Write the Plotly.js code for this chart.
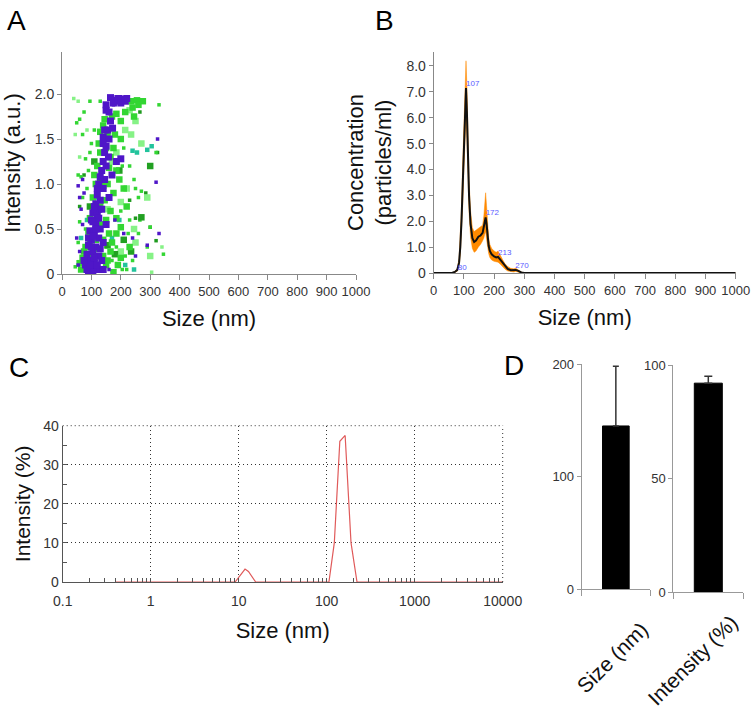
<!DOCTYPE html>
<html>
<head>
<meta charset="utf-8">
<script src="https://cdn.plot.ly/plotly-3.0.1.min.js"></script>
<style>html,body{margin:0;padding:0;background:#fff;}#chart{width:752px;height:715px;}</style>
</head>
<body>
<div id="chart"></div>
<script>
// ---------- Panel A: scatter (size vs intensity) ----------
const A_purple_big_x = [165,180,195,205,215,175,190,220,150,165,155,172,140,150,160,145,158,140,150,135,145,125,140,120,130,115,125,105,120,100,115,130,95,110,125,100,90,115,105,85,125,95,110,80,100,120,90,105,135,140,150,160,170,200,185,
  85,95,110,120,130,100,90,115,105,125,135,110,120,130,140,145,160,150,200,75,140,105];
const A_purple_big_y = [1.96,1.93,1.92,1.94,1.92,1.90,1.95,1.95,1.82,1.70,1.60,1.62,1.52,1.42,1.50,1.35,1.30,1.25,1.20,1.15,1.05,1.00,0.95,0.88,0.82,0.78,0.72,0.68,0.65,0.60,0.55,0.50,0.48,0.45,0.40,0.38,0.32,0.30,0.25,0.22,0.20,0.15,0.12,0.10,0.08,0.05,0.03,0.02,0.15,0.35,0.55,0.85,1.10,1.28,1.25,
  0.05,0.10,0.18,0.10,0.28,0.30,0.40,0.50,0.58,0.62,0.72,0.75,0.95,1.08,1.45,1.60,1.80,1.88,1.90,0.15,0.05,0.42];
const A_purple_small_x = [55,60,50,65,70,325,320,330,290,200,175,60,70,75,240,250,180,210,160,55];
const A_purple_small_y = [0.98,0.85,0.40,0.72,0.55,1.50,1.02,0.45,0.32,1.97,1.88,0.25,1.05,0.90,0.40,0.20,0.60,0.45,0.05,0.10];
const A_green_big_x = [235,255,275,240,215,185,140,130,170,180,200,150,175,130,120,160,195,115,140,175,105,130,165,95,150,185,90,140,200,80,120,165,70,110,150,200,65,130,175,230,125,145,110,160,100,210,220,
  60,75,85,95,105,115,140,155,170,185,190,135,145,120,110,155,165,185,155,200,260,245];
const A_green_big_y = [1.92,1.93,1.92,1.85,1.80,1.78,1.65,1.58,1.75,1.55,1.50,1.40,1.40,1.35,1.20,1.18,1.05,1.00,0.98,0.90,0.85,0.75,0.70,0.62,0.60,0.62,0.45,0.38,0.52,0.30,0.28,0.25,0.18,0.15,0.10,0.18,0.05,0.05,0.02,0.30,1.45,1.72,1.10,0.45,0.20,0.95,0.75,
  0.12,0.25,0.12,0.35,0.05,0.38,0.20,0.15,0.35,0.45,0.10,0.55,0.82,0.55,0.68,1.00,1.30,1.15,1.55,1.70,1.88,1.75];
const A_green_small_x = [50,60,75,95,130,70,55,65,80,100,85,245,260,270,300,330,320,345,290,260,240,220,45,55,60,230,210,265,
  150,170,185,205,215,225,80,70,90,95,110,200,230,250,205];
const A_green_small_y = [1.68,1.72,1.80,1.92,1.92,1.55,1.10,1.08,1.28,1.45,0.95,1.05,0.85,0.92,0.52,1.88,1.35,0.22,0.30,0.45,0.15,0.05,0.08,0.35,0.58,1.20,1.40,0.60,
  0.30,0.15,0.30,0.05,0.20,0.45,0.50,0.85,1.15,1.35,1.60,0.70,0.60,0.95,1.20];
const A_light_big_x = [230,250,215,185,235,170,220,200,155,245,290,300,250,200,270];
const A_light_big_y = [1.82,1.70,1.60,1.35,1.55,1.25,0.95,0.80,0.72,0.50,0.85,0.20,0.35,0.25,1.45];
const A_light_small_x = [40,55,45,60,305,85,190,340];
const A_light_small_y = [1.95,1.92,1.55,1.30,0.02,1.60,0.10,0.30];
const A_dark_big_x = [300,270,210,235,130,110,195,180,95,155];
const A_dark_big_y = [1.20,0.63,0.38,0.25,1.05,1.25,1.15,0.22,0.75,0.32];
const A_dark_small_x = [300,320,325,285,75,60,250,230,90,265];
const A_dark_small_y = [0.52,0.37,1.35,0.90,1.10,0.75,0.62,0.82,0.42,1.80];
const A_teal_x = [240,255,290,305,85,65,230,215,245,170,195,120];
const A_teal_y = [1.37,1.35,1.38,1.42,0.60,0.40,0.30,0.10,0.05,0.40,0.60,0.85];
const A_xticks = [0,100,200,300,400,500,600,700,800,900,1000];
const A_yticks = [0,0.5,1.0,1.5,2.0];
const A_yticktext = ["0","0.5","1.0","1.5","2.0"];

// ---------- Panel B: NTA concentration ----------
const B_x     = [0,55,62,70,78,84,88,92,96,100,104,107,110,113,117,122,128,134,140,148,155,162,166,169,172,175,178,182,186,192,200,207,213,220,228,236,245,255,265,272,280,290,300,330,1000];
const B_mean  = [0,0,0.01,0.04,0.12,0.4,1.0,2.0,3.4,5.0,6.5,7.15,6.2,4.6,3.0,1.9,1.35,1.2,1.25,1.4,1.45,1.55,1.75,2.0,2.15,1.9,1.45,1.05,0.85,0.72,0.64,0.6,0.62,0.52,0.38,0.25,0.16,0.11,0.1,0.12,0.08,0.02,0,0,0];
const B_upper = [0,0,0.02,0.06,0.18,0.55,1.3,2.5,4.2,6.0,7.6,8.2,7.2,5.4,3.6,2.4,1.75,1.6,1.65,1.75,1.8,1.85,2.2,2.8,3.1,2.6,1.9,1.35,1.1,0.95,0.85,0.8,0.85,0.72,0.52,0.36,0.25,0.18,0.16,0.18,0.12,0.04,0,0,0];
const B_lower = [0,0,0,0.02,0.07,0.25,0.7,1.5,2.6,4.0,5.4,6.1,5.2,3.8,2.4,1.4,0.95,0.8,0.85,1.0,1.1,1.25,1.35,1.5,1.6,1.3,1.0,0.75,0.6,0.5,0.45,0.42,0.42,0.35,0.25,0.15,0.08,0.05,0.04,0.06,0.03,0,0,0,0];
const B_peak_x = [80,107,172,213,270];
const B_peak_y = [0.05,7.15,2.15,0.62,0.12];
const B_peak_text = ["80","107","172","213","270"];
const B_yticks = [0,1,2,3,4,5,6,7,8];
const B_yticktext = ["0","1.0","2.0","3.0","4.0","5.0","6.0","7.0","8.0"];

// ---------- Panel C: DLS intensity distribution ----------
const C_x = [0.4,1,5,9.1,11.8,12.9,15.6,50,106,122,141,162,189,221,1000,10000];
const C_y = [0,0,0,0,3.3,2.7,0,0,0,10,36,37.5,10,0,0,0];
const C_xticks = [0.1,1,10,100,1000,10000];
const C_xticktext = ["0.1","1","10","100","1000","10000"];
const C_xminor = [0.2,0.3,0.4,0.5,0.6,0.7,0.8,0.9,2,3,4,5,6,7,8,9,20,30,40,50,60,70,80,90,200,300,400,500,600,700,800,900,2000,3000,4000,5000,6000,7000,8000,9000];

// ---------- Panel D: bar summaries ----------
const D_size = 145;
const D_size_err = 53;
const D_int = 92;
const D_int_err = 3;
const D_labels = ["Size (nm)","Intensity (%)"];

const FONT = "Arial, 'Liberation Sans', sans-serif";
const W = 752, H = 715;
const px = v => v / W;
const py = v => 1 - v / H;

function sq(x, y, color, size) {
  return {type:'scatter', mode:'markers', x:x, y:y, xaxis:'x', yaxis:'y',
    marker:{symbol:'square', color:color, size:size, line:{width:0}}, hoverinfo:'skip'};
}

const traces = [
  sq(A_light_small_x, A_light_small_y, '#86f286', 3.5),
  sq(A_dark_small_x, A_dark_small_y, '#1e9a1e', 3.5),
  sq(A_teal_x, A_teal_y, '#22c39c', 4.5),
  sq(A_green_small_x, A_green_small_y, '#33d633', 3.5),
  sq(A_light_big_x, A_light_big_y, '#86f286', 6.5),
  sq(A_dark_big_x, A_dark_big_y, '#22a022', 6.5),
  sq(A_green_big_x, A_green_big_y, '#33d633', 6.5),
  sq(A_purple_small_x, A_purple_small_y, '#4f16c8', 3.5),
  sq(A_purple_big_x, A_purple_big_y, '#4f16c8', 7),
  // Panel B
  {type:'scatter', mode:'lines', x:B_x, y:B_lower, xaxis:'x2', yaxis:'y2',
    line:{color:'#ff8a00', width:0.5}, hoverinfo:'skip'},
  {type:'scatter', mode:'lines', x:B_x, y:B_upper, xaxis:'x2', yaxis:'y2', fill:'tonexty',
    fillcolor:'#ff8a00', line:{color:'#ff8a00', width:0.5}, hoverinfo:'skip'},
  {type:'scatter', mode:'lines', x:B_x, y:B_mean, xaxis:'x2', yaxis:'y2',
    line:{color:'#111', width:2}, hoverinfo:'skip'},
  {type:'scatter', mode:'text', x:B_peak_x, y:B_peak_y, text:B_peak_text, xaxis:'x2', yaxis:'y2',
    textposition:'top right', textfont:{family:FONT, size:8, color:'#5a5aff'}, hoverinfo:'skip'},
  // Panel C
  {type:'scatter', mode:'lines', x:C_x, y:C_y, xaxis:'x3', yaxis:'y3',
    line:{color:'#e05a5a', width:1.2}, hoverinfo:'skip'},
  // Panel D
  {type:'bar', x:[0], y:[D_size], xaxis:'x4', yaxis:'y4', width:0.39,
    marker:{color:'#000', line:{color:'#000', width:1}},
    error_y:{type:'data', array:[D_size_err], arrayminus:[0], color:'#333', thickness:1.5, width:3}, hoverinfo:'skip'},
  {type:'bar', x:[0], y:[D_int], xaxis:'x5', yaxis:'y5', width:0.4,
    marker:{color:'#000', line:{color:'#000', width:1}},
    error_y:{type:'data', array:[D_int_err], arrayminus:[0], color:'#333', thickness:1.5, width:4}, hoverinfo:'skip'}
];

const tickF = {family:FONT, size:13, color:'#333'};
const titleF = {family:FONT, size:22, color:'#111'};
const dotted = '1px,3px';

const layout = {
  width:W, height:H, margin:{l:0,r:0,t:0,b:0}, showlegend:false,
  paper_bgcolor:'#fff', plot_bgcolor:'rgba(0,0,0,0)',
  font:{family:FONT},
  xaxis:{domain:[px(62), px(356)], range:[0,1000], tickvals:A_xticks, tickangle:0, ticks:'outside', ticklen:5,
    tickcolor:'#888', showline:true, linecolor:'#888', showgrid:false, zeroline:false, tickfont:tickF,
    title:{text:'Size (nm)', font:titleF, standoff:13}, anchor:'y'},
  yaxis:{domain:[py(274), py(52)], range:[0,2.467], tickvals:A_yticks, ticktext:A_yticktext, ticks:'outside', ticklen:4,
    tickcolor:'#888', showline:true, linecolor:'#888', showgrid:false, zeroline:false, tickfont:{family:FONT, size:14, color:'#333'},
    title:{text:'Intensity (a.u.)', font:titleF, standoff:8}, anchor:'x'},
  xaxis2:{domain:[px(433.7), px(735.7)], range:[0,1000], tickvals:A_xticks, tickangle:0, ticks:'outside', ticklen:5,
    tickcolor:'#888', showline:true, linecolor:'#888', showgrid:false, zeroline:false, tickfont:tickF,
    title:{text:'Size (nm)', font:titleF, standoff:13}, anchor:'y2'},
  yaxis2:{domain:[py(273), py(52)], range:[0,8.54], tickvals:B_yticks, ticktext:B_yticktext, ticks:'outside', ticklen:4,
    tickcolor:'#888', showline:true, linecolor:'#888', showgrid:false, zeroline:false, tickfont:{family:FONT, size:14, color:'#333'},
    title:{text:'Concentration<br>(particles/ml)', font:titleF, standoff:8}, anchor:'x2'},
  xaxis3:{domain:[px(62.7), px(502.7)], type:'log', range:[-1,4], tickvals:C_xticks, ticktext:C_xticktext, tickangle:0,
    ticks:'inside', ticklen:4, tickcolor:'#555', showline:true, linecolor:'#555', linewidth:1, ticklabelstandoff:6,
    showgrid:true, gridcolor:'#333', griddash:dotted, gridwidth:1, zeroline:false, tickfont:{family:FONT, size:14, color:'#333'},
    minor:{tickvals:C_xminor, ticks:'inside', ticklen:4, tickcolor:'#555', showgrid:false},
    title:{text:'Size (nm)', font:titleF, standoff:14}, anchor:'y3'},
  yaxis3:{domain:[py(582), py(425.7)], range:[0,40], dtick:10, ticks:'inside', ticklen:4, tickcolor:'#555',
    showline:true, linecolor:'#555', showgrid:true, gridcolor:'#333', griddash:dotted, gridwidth:1, zeroline:false,
    minor:{dtick:5, ticks:'inside', ticklen:4, tickcolor:'#555', showgrid:false},
    tickfont:{family:FONT, size:14, color:'#333'}, title:{text:'Intensity (%)', font:{family:FONT, size:21, color:'#111'}, standoff:6}, anchor:'x3'},
  xaxis4:{domain:[px(581.7), px(650)], range:[-0.5,0.5], tickvals:[-0.5,0.5], showticklabels:false, ticks:'outside', ticklen:6,
    tickcolor:'#999', showline:true, linecolor:'#999', showgrid:false, zeroline:false, anchor:'y4'},
  yaxis4:{domain:[py(589.3), py(364)], range:[0,200], tickvals:[0,100,200], ticks:'outside', ticklen:4,
    tickcolor:'#999', showline:true, linecolor:'#999', showgrid:false, zeroline:false,
    tickfont:{family:FONT, size:13, color:'#333'}, anchor:'x4'},
  xaxis5:{domain:[px(673.3), px(743.3)], range:[-0.5,0.5], tickvals:[-0.5,0.5], showticklabels:false, ticks:'outside', ticklen:6,
    tickcolor:'#999', showline:true, linecolor:'#999', showgrid:false, zeroline:false, anchor:'y5'},
  yaxis5:{domain:[py(592), py(365)], range:[0,100], tickvals:[0,50,100], ticks:'outside', ticklen:4,
    tickcolor:'#999', showline:true, linecolor:'#999', showgrid:false, zeroline:false,
    tickfont:{family:FONT, size:13, color:'#333'}, anchor:'x5'},
  shapes:[
    {type:'line', xref:'x3 domain', yref:'y3 domain', x0:0, x1:1, y0:1, y1:1, line:{color:'#333', width:1, dash:dotted}},
    {type:'line', xref:'x3 domain', yref:'y3 domain', x0:1, x1:1, y0:0, y1:1, line:{color:'#333', width:1, dash:dotted}}
  ],
  annotations:[
    {text:'A', x:px(5), y:py(3), xref:'paper', yref:'paper', xanchor:'left', yanchor:'top', showarrow:false, font:{family:FONT, size:28, color:'#000'}},
    {text:'B', x:px(373), y:py(3), xref:'paper', yref:'paper', xanchor:'left', yanchor:'top', showarrow:false, font:{family:FONT, size:28, color:'#000'}},
    {text:'C', x:px(7), y:py(350), xref:'paper', yref:'paper', xanchor:'left', yanchor:'top', showarrow:false, font:{family:FONT, size:28, color:'#000'}},
    {text:'D', x:px(502), y:py(348), xref:'paper', yref:'paper', xanchor:'left', yanchor:'top', showarrow:false, font:{family:FONT, size:28, color:'#000'}},
    {text:D_labels[0], x:px(612), y:py(657), xref:'paper', yref:'paper', xanchor:'center', yanchor:'middle', textangle:-45, showarrow:false, font:{family:FONT, size:21, color:'#111'}},
    {text:D_labels[1], x:px(692), y:py(660), xref:'paper', yref:'paper', xanchor:'center', yanchor:'middle', textangle:-45, showarrow:false, font:{family:FONT, size:21, color:'#111'}}
  ]
};

Plotly.newPlot('chart', traces, layout, {displayModeBar:false, staticPlot:true});
</script>
</body>
</html>
